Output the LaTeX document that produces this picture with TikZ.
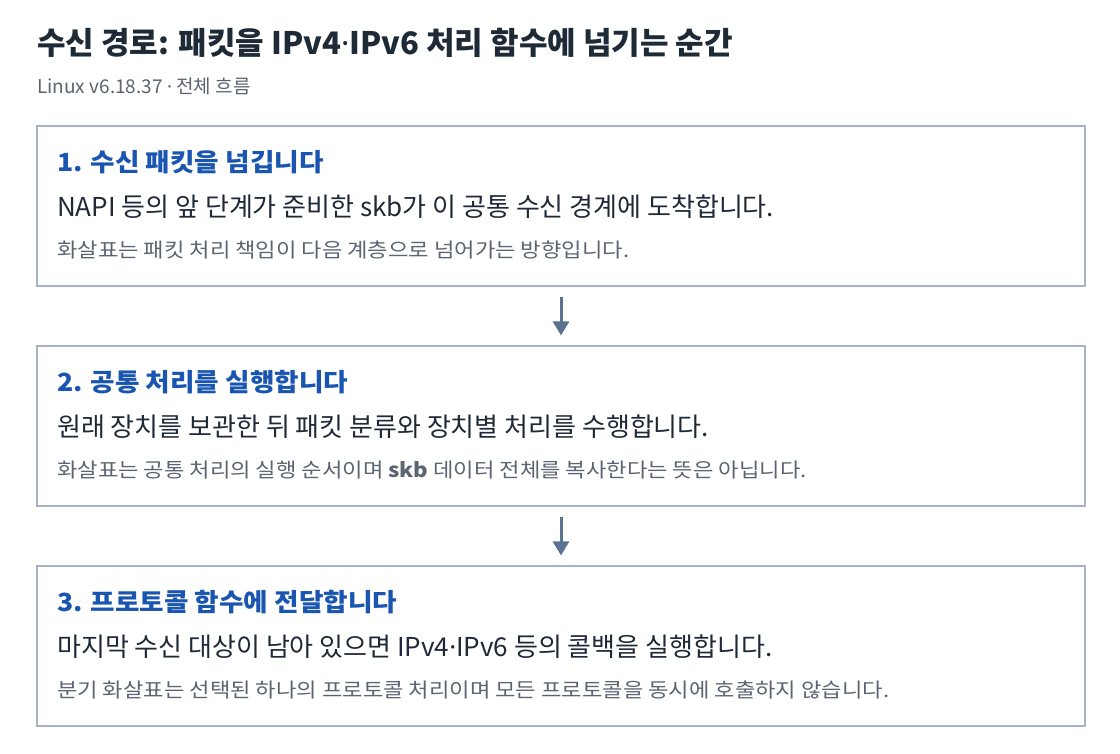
\documentclass[tikz,border=0pt]{standalone}
\usepackage{fontspec}
\setmainfont{Noto Sans CJK KR}
\newfontfamily\headfont[FakeStretch=1.065]{Noto Sans CJK KR}
\newfontfamily\notefont[FakeStretch=1.11]{Noto Sans CJK KR}
\newfontfamily\latinfont{Noto Sans}
\newcommand{\mdot}{{\latinfont ·}}
\usetikzlibrary{arrows.meta}
\definecolor{titlec}{HTML}{1F2A37}
\definecolor{headc}{HTML}{1A56B0}
\definecolor{bodyc}{HTML}{1F2937}
\definecolor{notec}{HTML}{5B6472}
\definecolor{borderc}{HTML}{A9B4C2}
\definecolor{arrowc}{HTML}{5A7390}
\tikzset{
  stepbox/.style={draw=borderc, line width=1.2pt, fill=white, minimum width=1048pt, minimum height=160pt, inner sep=0pt},
  titletext/.style={anchor=west, inner sep=0pt, text=titlec, font=\fontsize{31pt}{34pt}\selectfont\bfseries},
  subtext/.style={anchor=west, inner sep=0pt, text=notec, font=\fontsize{19pt}{22pt}\selectfont},
  headtext/.style={anchor=west, inner sep=0pt, text=headc, font=\headfont\fontsize{25pt}{29pt}\selectfont\bfseries},
  bodytext/.style={anchor=west, inner sep=0pt, text=bodyc, font=\fontsize{26pt}{30pt}\selectfont},
  notetext/.style={anchor=west, inner sep=0pt, text=notec, font=\notefont\fontsize{20pt}{23pt}\selectfont},
  flow/.style={draw=arrowc, line width=3pt, -{Triangle[length=14pt,width=16pt]}}
}
\begin{document}
\begin{tikzpicture}[x=1pt,y=-1pt]
\useasboundingbox[fill=white] (0,0) rectangle (1120,754);
\node[titletext] (title) at (37,43) {수신 경로: 패킷을 IPv4\mdot IPv6 처리 함수에 넘기는 순간};
\node[subtext] (sub) at (37,86) {Linux v6.18.37 \mdot{} 전체 흐름};

\node[stepbox] (b1) at (561,206) {};
\node[stepbox] (b2) at (561,426) {};
\node[stepbox] (b3) at (561,646) {};

\node[headtext] (h1) at (57,162) {1. 수신 패킷을 넘깁니다};
\node[bodytext] (t1) at (57,207) {NAPI 등의 앞 단계가 준비한 skb가 이 공통 수신 경계에 도착합니다.};
\node[notetext] (n1) at (57,250) {화살표는 패킷 처리 책임이 다음 계층으로 넘어가는 방향입니다.};

\node[headtext] (h2) at (57,382) {2. 공통 처리를 실행합니다};
\node[bodytext] (t2) at (57,427) {원래 장치를 보관한 뒤 패킷 분류와 장치별 처리를 수행합니다.};
\node[notetext] (n2) at (57,470) {화살표는 공통 처리의 실행 순서이며 \textbf{skb} 데이터 전체를 복사한다는 뜻은 아닙니다.};

\node[headtext] (h3) at (57,602) {3. 프로토콜 함수에 전달합니다};
\node[bodytext] (t3) at (57,647) {마지막 수신 대상이 남아 있으면 IPv4\mdot IPv6 등의 콜백을 실행합니다.};
\node[notetext] (n3) at (57,690) {분기 화살표는 선택된 하나의 프로토콜 처리이며 모든 프로토콜을 동시에 호출하지 않습니다.};

\draw[flow] ([yshift=-10pt]b1.south) -- ([yshift=10pt]b2.north);
\draw[flow] ([yshift=-10pt]b2.south) -- ([yshift=10pt]b3.north);
\end{tikzpicture}
\end{document}
